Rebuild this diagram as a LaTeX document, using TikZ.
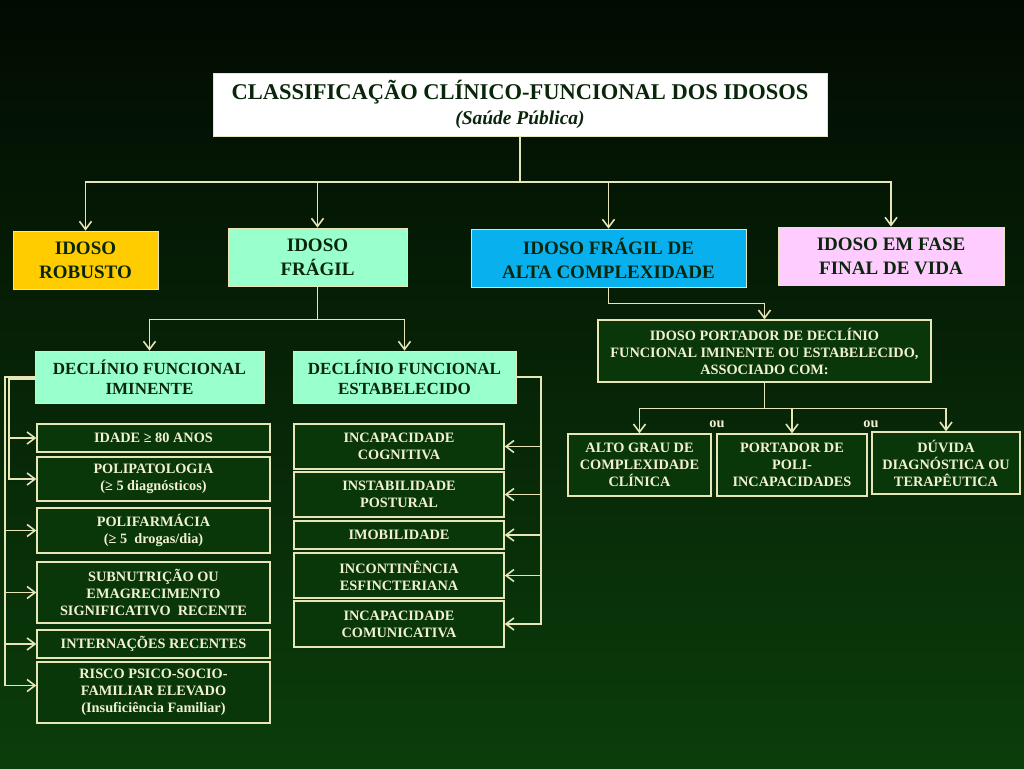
\documentclass[tikz,border=0pt]{standalone}
\usepackage{fontspec}
\setmainfont{Liberation Serif}
\usepackage{xcolor}
\usepackage{tikz}
\usetikzlibrary{positioning}
\usetikzlibrary{arrows.meta}
\definecolor{bgtop}{HTML}{020B02}
\definecolor{bgbot}{HTML}{0B3D0B}
\definecolor{linecol}{HTML}{E6E6B8}
\definecolor{creamtxt}{HTML}{F2F2D2}
\definecolor{darktxt}{HTML}{0A260A}
\definecolor{boxfill}{HTML}{0A370A}
\definecolor{gold}{HTML}{FFCC00}
\definecolor{mint}{HTML}{99FFCC}
\definecolor{sky}{HTML}{08B0EE}
\definecolor{pink}{HTML}{FFCCFF}
\tikzset{
    titlebox/.style = {rectangle, draw=linecol, fill=white, align=center, inner sep=0pt, text=darktxt, font=\bfseries\fontsize{22.5}{25}\selectfont, minimum width=614pt, minimum height=63pt},
    bigbox/.style = {rectangle, draw=linecol, line width=0.8pt, align=center, inner sep=0pt, text=darktxt, font=\bfseries\fontsize{19}{24}\selectfont, minimum height=58pt},
    declbox/.style = {rectangle, draw=linecol, line width=0.8pt, fill=mint, align=center, inner sep=0pt, text=darktxt, font=\bfseries\fontsize{17}{20}\selectfont, minimum height=52pt},
    darkbox/.style = {rectangle, draw=linecol, line width=1.3pt, fill=boxfill, align=center, inner sep=0pt, text=creamtxt, font=\bfseries\fontsize{14.3}{17}\selectfont},
    leftbox/.style = {darkbox, minimum width=233pt},
    midbox/.style = {darkbox, minimum width=210pt},
    conn/.style = {draw=linecol, line width=1.6pt},
    arr/.style = {conn, -{Straight Barb[length=8pt,width=12pt]}},
}
\begin{document}
\begin{tikzpicture}[x=1pt, y=-1pt]
\shade[top color=bgtop, bottom color=bgbot] (0,0) rectangle (1024,768);
\useasboundingbox (0,0) rectangle (1024,768);
% title and first level
\node[titlebox] at (520,104.5) (title) {CLASSIFICAÇÃO CLÍNICO-FUNCIONAL DOS IDOSOS\\{\itshape\fontsize{19.5}{22}\selectfont (Saúde Pública)}};
\node[bigbox, fill=gold, minimum width=145pt] at (85.5,260) (robusto) {IDOSO\\ROBUSTO};
\node[bigbox, fill=mint, minimum width=179pt] at (317.5,257) (fragil) {IDOSO\\FRÁGIL};
\node[bigbox, fill=sky, minimum width=275pt] at (608.5,258) (alta) {IDOSO FRÁGIL DE\\ALTA COMPLEXIDADE};
\node[bigbox, fill=pink, minimum width=226pt] at (891,256) (final) {IDOSO EM FASE\\FINAL DE VIDA};
%
\node[declbox, minimum width=229pt] at (149.5,377) (iminente) {DECLÍNIO FUNCIONAL\\IMINENTE};
\node[declbox, minimum width=223pt] at (404.5,377) (estab) {DECLÍNIO FUNCIONAL\\ESTABELECIDO};
\node[darkbox, minimum width=333pt, minimum height=62pt] at (764.5,351) (portador) {IDOSO PORTADOR DE DECLÍNIO\\FUNCIONAL IMINENTE OU ESTABELECIDO,\\ASSOCIADO COM:};
%
\node[darkbox, minimum width=143pt, minimum height=62pt] at (639.5,465) (altograu) {ALTO GRAU DE\\COMPLEXIDADE\\CLÍNICA};
\node[darkbox, minimum width=150pt, minimum height=62pt] at (792,465) (poli) {PORTADOR DE\\POLI-\\INCAPACIDADES};
\node[darkbox, minimum width=148pt, minimum height=62pt] at (946,463) (duvida) {DÚVIDA\\DIAGNÓSTICA OU\\TERAPÊUTICA};
\node[text=creamtxt, font=\bfseries\fontsize{14.3}{17}\selectfont] at (717,424) (ou1) {ou};
\node[text=creamtxt, font=\bfseries\fontsize{14.3}{17}\selectfont] at (871,424) (ou2) {ou};
% left column
\node[leftbox, minimum height=28pt] at (153.5,438) (idade) {IDADE ≥ 80 ANOS};
\node[leftbox, minimum height=44pt] at (153.5,479) (polipat) {POLIPATOLOGIA\\(≥ 5 diagnósticos)};
\node[leftbox, minimum height=45pt] at (153.5,530.5) (polifarm) {POLIFARMÁCIA\\(≥ 5~ drogas/dia)};
\node[leftbox, minimum height=61pt] at (153.5,592.5) (subnut) {SUBNUTRIÇÃO OU\\EMAGRECIMENTO\\SIGNIFICATIVO~ RECENTE};
\node[leftbox, minimum height=28pt] at (153.5,644) (intern) {INTERNAÇÕES RECENTES};
\node[leftbox, minimum height=61pt] at (153.5,692.5) (risco) {RISCO PSICO-SOCIO-\\FAMILIAR ELEVADO\\(Insuficiência Familiar)};
% middle column
\node[midbox, minimum height=45pt] at (399,446.5) (cog) {INCAPACIDADE\\COGNITIVA};
\node[midbox, minimum height=45pt] at (399,494.5) (instab) {INSTABILIDADE\\POSTURAL};
\node[midbox, minimum height=28pt] at (399,535) (imob) {IMOBILIDADE};
\node[midbox, minimum height=45pt] at (399,575.5) (incont) {INCONTINÊNCIA\\ESFINCTERIANA};
\node[midbox, minimum height=46pt] at (399,624) (comunic) {INCAPACIDADE\\COMUNICATIVA};
%
\coordinate (j1) at ([yshift=-46pt]title.south);
\coordinate (j2) at ([yshift=-33pt]fragil.south);
\coordinate (j3) at ([yshift=-16pt]alta.south);
\coordinate (j4) at ([yshift=-26pt]portador.south);
\coordinate (lo) at (5,377);
\coordinate (li) at (9,379);
\coordinate (ro) at (541,377);
%
\draw[conn] (title) -- (j1);
\foreach \n in {robusto,fragil,alta,final} \draw[arr] (j1) -| (\n);
\draw[conn] (fragil) -- (j2);
\draw[arr] (j2) -| (iminente);
\draw[arr] (j2) -| (estab);
\draw[arr] (alta) -- (j3) -| (portador);
\draw[conn] (portador) -- (j4);
\foreach \n in {altograu,poli,duvida} \draw[arr] (j4) -| (\n);
%
\draw[arr] (iminente.west) -- (lo) |- ([yshift=7pt]risco.west);
\draw[arr] ([yshift=-2pt]iminente.west) -- (li) |- (polipat);
\draw[arr] (li |- idade) -- (idade);
\foreach \n in {polifarm,subnut,intern} \draw[arr] (lo |- \n) -- (\n);
%
\draw[arr] (estab.east) -- (ro) |- (comunic);
\foreach \n in {cog,instab,imob,incont} \draw[arr] (ro |- \n) -- (\n);
\end{tikzpicture}
\end{document}
